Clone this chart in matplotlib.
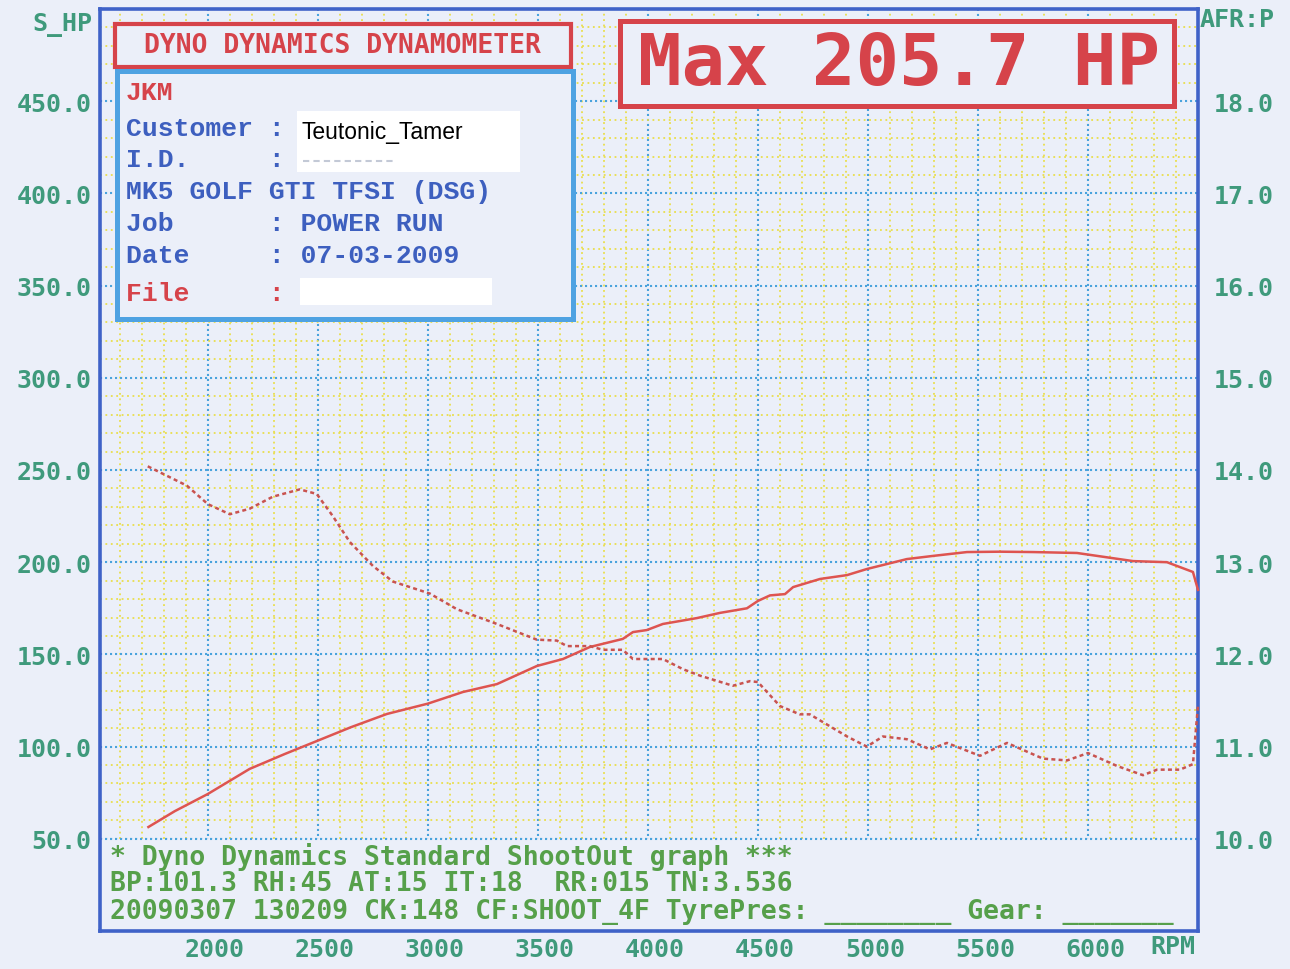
import matplotlib
matplotlib.use("Agg")
import matplotlib.pyplot as plt
from matplotlib.patches import Rectangle
from matplotlib.lines import Line2D
from matplotlib.ticker import MultipleLocator
from matplotlib.transforms import ScaledTranslation

# power curve (S_HP)
hp_rpm = [1730, 1850, 2000, 2190, 2350, 2495, 2650, 2814, 3000, 3159, 3314, 3495,
          3614, 3736, 3886, 3932, 3995, 4068, 4223, 4327, 4450, 4500, 4555, 4623,
          4660, 4782, 4905, 4995, 5177, 5295, 5450, 5600, 5750, 5950, 6205, 6359,
          6477, 6500]
hp = [56.4, 65.0, 74.3, 87.9, 96.0, 103.0, 110.5, 117.7, 123.3, 129.6, 133.9, 143.7,
      147.5, 154.0, 158.4, 162.1, 163.2, 166.5, 169.7, 172.5, 175.0, 179.0, 182.0, 182.7,
      186.5, 190.9, 193.0, 196.3, 201.7, 203.4, 205.5, 205.7, 205.5, 205.0, 200.6, 200.0,
      194.7, 185.0]

# air/fuel ratio curve
afr_rpm = [1727, 1905, 2000, 2100, 2190, 2295, 2418, 2495, 2568, 2645, 2750, 2841,
           3009, 3132, 3314, 3495, 3586, 3632, 3736, 3795, 3886, 3932, 4068, 4159,
           4236, 4386, 4464, 4500, 4600, 4690, 4736, 4905, 4995, 5068, 5177, 5282,
           5359, 5509, 5632, 5795, 5905, 6000, 6132, 6250, 6314, 6418, 6477, 6500]
afr = [14.04, 13.83, 13.63, 13.52, 13.58, 13.71, 13.79, 13.74, 13.50, 13.22, 12.96, 12.79,
       12.66, 12.49, 12.33, 12.16, 12.15, 12.09, 12.09, 12.05, 12.05, 11.95, 11.95, 11.84,
       11.77, 11.66, 11.71, 11.70, 11.44, 11.35, 11.35, 11.11, 11.00, 11.11, 11.08, 10.97,
       11.04, 10.90, 11.04, 10.87, 10.85, 10.93, 10.79, 10.69, 10.75, 10.75, 10.81, 11.45]

rpm_ticks = [2000, 2500, 3000, 3500, 4000, 4500, 5000, 5500, 6000]
hp_ticks = [50, 100, 150, 200, 250, 300, 350, 400, 450]
afr_ticks = [10, 11, 12, 13, 14, 15, 16, 17, 18]

info_rows = ["JKM", "Customer :", "I.D.     :", "MK5 GOLF GTI TFSI (DSG)",
             "Job      : POWER RUN", "Date     : 07-03-2009", "File     :"]
footer_rows = ["* Dyno Dynamics Standard ShootOut graph ***",
               "BP:101.3 RH:45 AT:15 IT:18  RR:015 TN:3.536",
               "20090307 130209 CK:148 CF:SHOOT_4F TyrePres: ________ Gear: _______"]

BG = "#ebeff9"
TEAL = "#3f9a7c"
GREEN = "#56a04a"
RED = "#d6434a"
BLUE = "#3d5fbf"
W, H = 1290, 970

fig = plt.figure(figsize=(12.9, 9.7), dpi=100, facecolor=BG)
ax = fig.add_axes([100 / W, 38 / H, 1098 / W, 922 / H], facecolor=BG)
ax.set_xlim(1510, 6500)
ax.set_ylim(0, 500)

ax.xaxis.set_minor_locator(MultipleLocator(100))
ax.yaxis.set_minor_locator(MultipleLocator(10))
ax.set_xticks(rpm_ticks, [str(v) for v in rpm_ticks])
ax.set_yticks(hp_ticks, [f"{v:.1f}" for v in hp_ticks])
ax.set_axisbelow(True)
ax.grid(which="minor", color="#e9de4c", linestyle=(0, (1, 2)), lw=1.3)
ax.grid(which="major", color="#4aa3dd", linestyle=(0, (1, 1.4)), lw=1.5)
ax.tick_params(which="both", length=0)
ax.tick_params(axis="y", pad=6)
ax.tick_params(axis="x", pad=4)
for lab in ax.get_xticklabels() + ax.get_yticklabels():
    lab.set_fontfamily("DejaVu Sans Mono")
    lab.set_fontweight("bold")
    lab.set_fontsize(18)
    lab.set_color(TEAL)
for lab in ax.get_xticklabels():
    lab.set_transform(lab.get_transform() + ScaledTranslation(7 / 100, 0, fig.dpi_scale_trans))
for s in ax.spines.values():
    s.set_color("#3f62c8")
    s.set_linewidth(2.6)

# footer area hides the grid below 50 HP
ax.add_patch(Rectangle((1510, 0), 4990, 50, facecolor=BG, edgecolor="none", zorder=0.8))
ax.axhline(50, color="#4aa3dd", linestyle=(0, (1, 1.4)), lw=1.5, zorder=0.9)

ax.plot(hp_rpm, hp, color="#de5450", lw=1.8, zorder=3, clip_on=False)

ax2 = ax.twinx()
ax2.set_ylim(9, 19)
ax2.set_yticks(afr_ticks, [f"{v:.1f}" for v in afr_ticks])
ax2.tick_params(length=0, pad=11)
for lab in ax2.get_yticklabels():
    lab.set_fontfamily("DejaVu Sans Mono")
    lab.set_fontweight("bold")
    lab.set_fontsize(18)
    lab.set_color(TEAL)
for s in ax2.spines.values():
    s.set_visible(False)
ax2.plot(afr_rpm, afr, color="#c9534f", lw=1.8, linestyle=(0, (1.6, 1.3)), zorder=3, clip_on=False)


def box(x0, y0, x1, y1, ec="none", lw=0, fc=BG):
    fig.add_artist(Rectangle((x0 / W, 1 - y1 / H), (x1 - x0) / W, (y1 - y0) / H,
                             transform=fig.transFigure, ec=ec, fc=fc, lw=lw))


def ftext(x, y, s, **kw):
    fig.text(x / W, 1 - y / H, s, va="center", **kw)


mono = dict(family="DejaVu Sans Mono", weight="bold")

# header boxes
box(115, 25, 571, 68, ec=RED, lw=3.0)
ftext(342, 46, "DYNO DYNAMICS DYNAMOMETER", ha="center", color=RED, fontsize=19, **mono)
box(117, 72, 573, 320, ec="#4ea2e2", lw=3.6)
box(620, 22, 1174, 107, ec=RED, lw=3.6)
ftext(899, 66, "Max 205.7 HP", ha="center", color=RED, fontsize=52, **mono)

# info panel
box(297, 112, 520, 173, fc="white")
box(300, 279, 492, 306, fc="white")
ftext(302, 132, "Teutonic_Tamer", ha="left", color="black", fontsize=16.5, family="Liberation Sans")
fig.add_artist(Line2D([303 / W, 395 / W], [1 - 162 / H] * 2, color="#c3c9d6",
                      linestyle=(0, (3, 2)), lw=1.5))
row_y = [93, 129, 160, 192, 224, 256, 294]
row_col = [RED, BLUE, BLUE, BLUE, BLUE, BLUE, RED]
for s, y, c in zip(info_rows, row_y, row_col):
    ftext(126, y, s, ha="left", color=c, fontsize=19, family="Liberation Mono", weight="bold")

# footer text
for s, y in zip(footer_rows, [857, 884, 912]):
    ftext(110, y, s, ha="left", color=GREEN, fontsize=19, **mono)

ftext(92, 25, "S_HP", ha="right", color=TEAL, fontsize=18, **mono)
ftext(1200, 20, "AFR:P", ha="left", color=TEAL, fontsize=18, **mono)
ftext(1150, 947, "RPM", ha="left", color=TEAL, fontsize=18, **mono)

fig.savefig("out.png", dpi=100, facecolor=BG)
